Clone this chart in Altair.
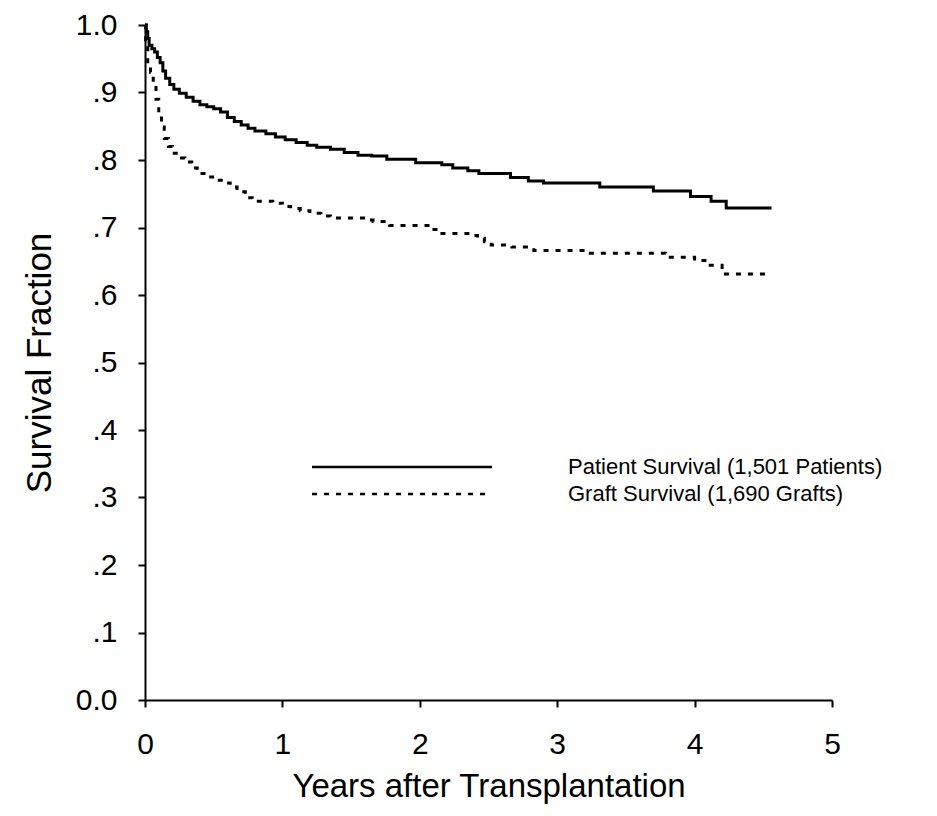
import altair as alt
import pandas as pd

# ---- data ----
patient_t = [0.0, 0.01, 0.02, 0.03, 0.05, 0.07, 0.09, 0.11, 0.13, 0.15, 0.18, 0.21,
             0.25, 0.30, 0.35, 0.40, 0.45, 0.50, 0.55, 0.60, 0.65, 0.70, 0.75, 0.80,
             0.88, 0.95, 1.02, 1.10, 1.18, 1.25, 1.35, 1.45, 1.55, 1.65, 1.76, 1.97,
             2.16, 2.24, 2.35, 2.43, 2.66, 2.79, 2.90, 3.31, 3.70, 3.97, 4.12, 4.23, 4.56]
patient_s = [1.0, 0.99, 0.98, 0.97, 0.965, 0.96, 0.952, 0.944, 0.932, 0.921, 0.912, 0.905,
             0.899, 0.893, 0.887, 0.882, 0.879, 0.876, 0.871, 0.863, 0.857, 0.852, 0.847, 0.843,
             0.839, 0.834, 0.830, 0.826, 0.822, 0.819, 0.816, 0.811, 0.807, 0.806, 0.801, 0.796,
             0.793, 0.788, 0.784, 0.780, 0.774, 0.769, 0.766, 0.760, 0.754, 0.746, 0.739, 0.729, 0.729]

graft_t = [0.0, 0.005, 0.02, 0.04, 0.06, 0.08, 0.10, 0.12, 0.14, 0.17, 0.20, 0.25, 0.29,
           0.34, 0.38, 0.45, 0.52, 0.57, 0.62, 0.67, 0.73, 0.78, 0.93, 1.00, 1.06, 1.13,
           1.20, 1.28, 1.35, 1.59, 1.66, 1.78, 2.08, 2.14, 2.35, 2.42, 2.47, 2.52, 2.67,
           2.83, 3.20, 3.79, 4.00, 4.09, 4.20, 4.53]
graft_s = [1.0, 0.97, 0.94, 0.93, 0.91, 0.89, 0.865, 0.849, 0.832, 0.82, 0.81, 0.803, 0.797,
           0.788, 0.780, 0.775, 0.770, 0.766, 0.760, 0.753, 0.744, 0.739, 0.736, 0.731, 0.728, 0.725,
           0.721, 0.717, 0.714, 0.711, 0.709, 0.703, 0.697, 0.691, 0.688, 0.684, 0.679, 0.674, 0.671,
           0.666, 0.662, 0.656, 0.651, 0.644, 0.631, 0.631]

series_names = ["Patient Survival (1,501 Patients)", "Graft Survival (1,690 Grafts)"]
x_ticks = [0, 1, 2, 3, 4, 5]
y_ticks = [0.0, 0.1, 0.2, 0.3, 0.4, 0.5, 0.6, 0.7, 0.8, 0.9, 1.0]

df = pd.concat([
    pd.DataFrame({"t": patient_t, "s": patient_s, "series": series_names[0]}),
    pd.DataFrame({"t": graft_t, "s": graft_s, "series": series_names[1]}),
], ignore_index=True)

FONT = "Liberation Sans"
dash_scale = alt.Scale(domain=series_names, range=[[1, 0], [5, 7]])

lines = alt.Chart(df).mark_line(
    interpolate="step-after", color="black", strokeWidth=3
).encode(
    x=alt.X("t:Q",
            scale=alt.Scale(domain=[0, 5], nice=False),
            axis=alt.Axis(values=x_ticks, format="d", title="Years after Transplantation",
                          labelPadding=22, titlePadding=11, titleFontSize=33, labelFlush=False)),
    y=alt.Y("s:Q",
            scale=alt.Scale(domain=[0, 1], nice=False),
            axis=alt.Axis(values=y_ticks, title="Survival Fraction",
                          labelExpr="datum.value == 0 ? '0.0' : (datum.value == 1 ? '1.0' : replace(format(datum.value, '.1f'), '0.', '.'))",
                          labelPadding=21, titlePadding=18, titleFontSize=35)),
    strokeDash=alt.StrokeDash("series:N", scale=dash_scale, legend=None),
    detail="series:N",
)

# hand-built legend (key lines + labels), one row per series
legend_layers = []
for i, name in enumerate(series_names):
    row = pd.DataFrame({"series": [name]})
    ypix = 442 + 27 * i
    legend_layers.append(
        alt.Chart(row).mark_rule(color="black", strokeWidth=2.5).encode(
            x=alt.value(167), x2=alt.value(347), y=alt.value(ypix),
            strokeDash=alt.StrokeDash("series:N", scale=dash_scale, legend=None),
        )
    )
    legend_layers.append(
        alt.Chart(row).mark_text(align="left", baseline="middle", font=FONT,
                                 fontSize=22, color="black").encode(
            x=alt.value(423), y=alt.value(ypix), text="series:N",
        )
    )

chart = alt.layer(lines, *legend_layers).properties(
    width=687, height=675,
    autosize=alt.AutoSizeParams(type="none"),
    padding={"left": 137, "top": 17, "right": 97, "bottom": 108},
).configure_view(stroke=None).configure_axis(
    domainColor="black", domainWidth=2, tickColor="black", tickWidth=2, tickSize=7,
    labelFont=FONT, labelFontSize=30, labelColor="black",
    titleFont=FONT, titleFontWeight="normal", titleColor="black", grid=False,
)

chart.save("out.html", embed_options={"renderer": "svg", "actions": False})
